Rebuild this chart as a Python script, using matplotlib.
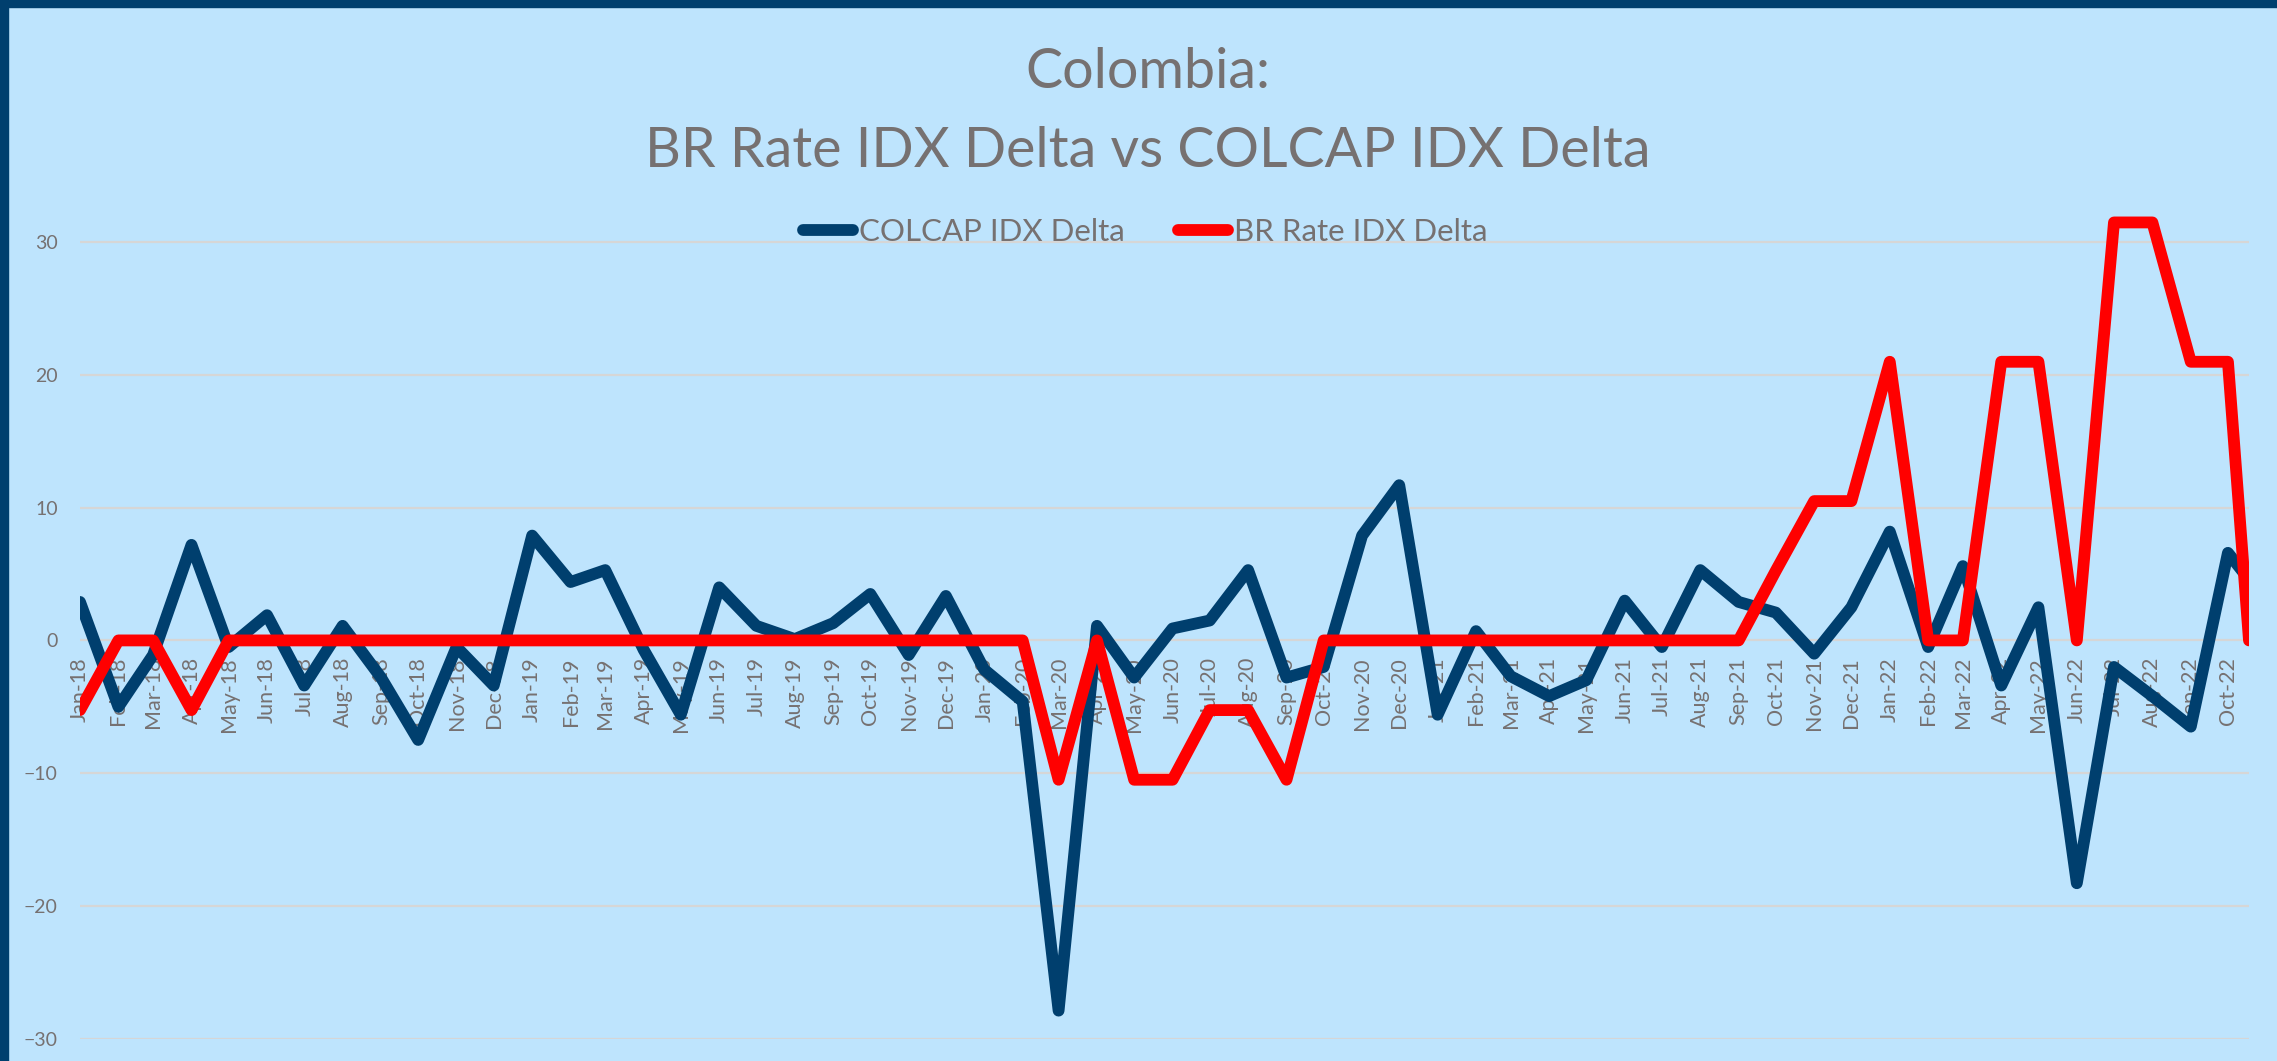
import numpy as np
import pandas as pd
import matplotlib
matplotlib.use("Agg")
import matplotlib.pyplot as plt
import matplotlib.dates as mdates
from matplotlib.patches import Rectangle

# monthly points Jan-18 .. Oct-22, plus one last mid-month reading
month_starts = pd.date_range("2018-01-01", "2022-10-01", freq="MS")
last_date = pd.Timestamp("2022-10-18")
dates = list(month_starts) + [last_date]

colcap_delta = [2.9, -5.0, -1.1, 7.2, -0.5, 1.9, -3.4, 1.1, -2.8, -7.5, -0.5, -3.4,
                7.9, 4.4, 5.3, -0.7, -5.6, 4.0, 1.1, 0.1, 1.3, 3.5, -1.1, 3.35,
                -2.2, -4.6, -27.9, 1.1, -2.8, 0.9, 1.5, 5.3, -2.8, -2.0, 7.9, 11.7,
                -5.6, 0.7, -2.7, -4.2, -3.0, 3.0, -0.5, 5.3, 2.9, 2.1, -1.0, 2.5,
                8.2, -0.5, 5.6, -3.4, 2.5, -18.3, -2.0, -4.2, -6.5, 6.6, 4.6]

br_rate_delta = [-5.25, 0, 0, -5.25, 0, 0, 0, 0, 0, 0, 0, 0,
                 0, 0, 0, 0, 0, 0, 0, 0, 0, 0, 0, 0,
                 0, 0, -10.5, 0, -10.5, -10.5, -5.25, -5.25, -10.5, 0, 0, 0,
                 0, 0, 0, 0, 0, 0, 0, 0, 0, 5.25, 10.5, 10.5,
                 21, 0, 0, 21, 21, 0, 31.5, 31.5, 21, 21, 0]

y_ticks = [-30, -20, -10, 0, 10, 20, 30]
title_1 = "Colombia:"
title_2 = "BR Rate IDX Delta vs COLCAP IDX Delta"

BG = "#BEE4FD"
NAVY = "#003F6E"
GRAY = "#767171"
plt.rcParams["font.family"] = ["Lato", "DejaVu Sans"]

W, H = 2277, 1061
fig = plt.figure(figsize=(W / 100, H / 100), dpi=100, facecolor=BG)

# frame bars (top and left)
fig.patches.append(Rectangle((0, 1 - 7 / H), 1, 7 / H, transform=fig.transFigure, color=NAVY, zorder=0))
fig.patches.append(Rectangle((0, 0), 8 / W, 1, transform=fig.transFigure, color=NAVY, zorder=0))

ax = fig.add_axes([80 / W, 1 - 1038.5 / H, (2249 - 80) / W, (1038.5 - 176) / H])
ax.set_facecolor(BG)

ax.plot(dates, colcap_delta, color=NAVY, lw=8.5, solid_joinstyle="round",
        solid_capstyle="round", label="COLCAP IDX Delta", zorder=3)
ax.plot(dates, br_rate_delta, color="#FF0000", lw=8.5, solid_joinstyle="round",
        solid_capstyle="round", label="BR Rate IDX Delta", zorder=4)

ax.set_xlim(dates[0], dates[-1])
ax.set_ylim(-30, 35)
ax.set_yticks(y_ticks)
ax.yaxis.grid(True, color="#D6D6D6", lw=1.6)
ax.set_axisbelow(True)
for s in ax.spines.values():
    s.set_visible(False)

# category labels hang off the zero line
ax.spines["bottom"].set_position(("data", 0))
ax.set_xticks(month_starts)
ax.xaxis.set_major_formatter(mdates.DateFormatter("%b-%y"))
ax.tick_params(axis="x", length=0, pad=12, labelsize=15.5, labelcolor=GRAY, rotation=90)
ax.tick_params(axis="y", length=0, pad=16, labelsize=14, labelcolor=GRAY)

fig.text(0.504, 1 - 88 / H, title_1, ha="center", va="baseline", fontsize=40, color=GRAY)
fig.text(0.504, 1 - 167 / H, title_2, ha="center", va="baseline", fontsize=40, color=GRAY)

fig.legend(loc="center", bbox_to_anchor=(0.503, 1 - 232 / H), ncol=2, frameon=False,
           fontsize=22.5, labelcolor=GRAY, handlelength=1.6, handletextpad=0.2,
           columnspacing=1.7, borderpad=0)

fig.savefig("out.png", dpi=100, facecolor=BG)
